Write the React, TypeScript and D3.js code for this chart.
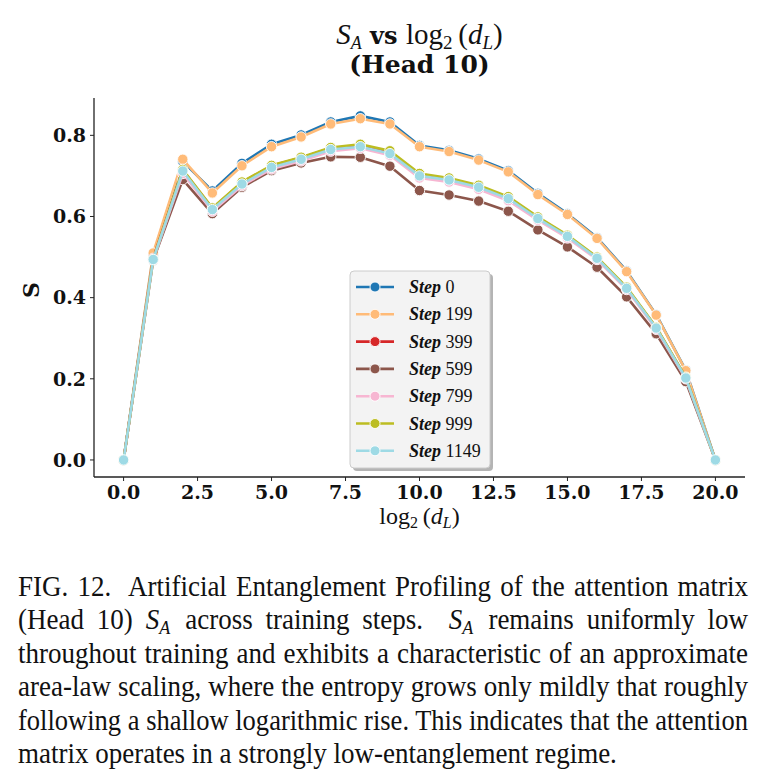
import { useRef, useLayoutEffect, useState } from 'react'
import * as d3 from 'd3'

const logDL = [0, 1, 2, 3, 4, 5, 6, 7, 8, 9, 10, 11, 12, 13, 14, 15, 16, 17, 18, 19, 20]

const stepNames = ['0', '199', '399', '599', '799', '999', '1149']
const stepColors = ['#1f77b4', '#ffbb78', '#d62728', '#8c564b', '#f7b6d2', '#bcbd22', '#9edae5']

const step0 = [0, 0.505, 0.736, 0.663, 0.731, 0.778, 0.801, 0.833, 0.848, 0.833, 0.775, 0.763, 0.742, 0.713, 0.657, 0.607, 0.548, 0.466, 0.358, 0.221, 0]
const step199 = [0, 0.51, 0.741, 0.658, 0.725, 0.772, 0.796, 0.828, 0.841, 0.828, 0.772, 0.76, 0.739, 0.71, 0.654, 0.605, 0.546, 0.464, 0.357, 0.22, 0]
const step399 = [0, 0.497, 0.714, 0.62, 0.684, 0.725, 0.745, 0.768, 0.774, 0.757, 0.702, 0.692, 0.674, 0.646, 0.597, 0.552, 0.498, 0.424, 0.326, 0.203, 0]
const step599 = [0, 0.492, 0.691, 0.607, 0.672, 0.713, 0.732, 0.747, 0.746, 0.724, 0.664, 0.653, 0.638, 0.613, 0.567, 0.525, 0.475, 0.402, 0.311, 0.193, 0]
const step799 = [0, 0.493, 0.706, 0.613, 0.676, 0.717, 0.737, 0.761, 0.768, 0.751, 0.695, 0.685, 0.667, 0.639, 0.591, 0.547, 0.494, 0.42, 0.322, 0.2, 0]
const step999 = [0, 0.495, 0.716, 0.621, 0.685, 0.726, 0.746, 0.77, 0.778, 0.762, 0.706, 0.695, 0.677, 0.649, 0.599, 0.554, 0.5, 0.426, 0.327, 0.204, 0]
const step1149 = [0, 0.494, 0.712, 0.617, 0.68, 0.721, 0.741, 0.765, 0.772, 0.755, 0.7, 0.69, 0.672, 0.644, 0.595, 0.551, 0.497, 0.423, 0.325, 0.202, 0]

const allSteps = [step0, step199, step399, step599, step799, step999, step1149]

const xTicks = [0, 2.5, 5, 7.5, 10, 12.5, 15, 17.5, 20]
const yTicks = [0, 0.2, 0.4, 0.6, 0.8]

const caption = [
  'FIG. 12.  Artificial Entanglement Profiling of the attention matrix',
  '(Head 10) S_A across training steps.  S_A remains uniformly low',
  'throughout training and exhibits a characteristic of an approximate',
  'area-law scaling, where the entropy grows only mildly that roughly',
  'following a shallow logarithmic rise. This indicates that the attention',
  'matrix operates in a strongly low-entanglement regime.',
]

const W = 766
const H = 775
const plot = { left: 94, right: 745, top: 98, bottom: 477 }
const tickFont = { fontFamily: 'DejaVu Serif' }
const times = { fontFamily: 'Liberation Serif, Tinos, Times New Roman, Nimbus Roman, FreeSerif, serif' }
const capWidth = 730

function CaptionLine({ text, y, justify }: { text: string; y: number; justify: boolean }) {
  const ref = useRef<SVGTextElement>(null)
  const [fit, setFit] = useState<{ ws: number; squeeze: boolean }>({ ws: 0, squeeze: false })

  useLayoutEffect(() => {
    if (!justify || !ref.current) return
    const natural = ref.current.getComputedTextLength()
    const spaces = (text.match(/ /g) || []).length
    if (natural <= capWidth) setFit({ ws: (capWidth - natural) / spaces, squeeze: false })
    else setFit({ ws: 0, squeeze: true })
  }, [text, justify])

  const parts = text.split('S_A')
  const kids: any[] = []
  parts.forEach((p, i) => {
    kids.push(<tspan key={'t' + i}>{p}</tspan>)
    if (i < parts.length - 1) {
      kids.push(<tspan key={'s' + i} fontStyle="italic">S</tspan>)
      kids.push(<tspan key={'a' + i} fontStyle="italic" fontSize={18} dy={4}>A</tspan>)
      kids.push(<tspan key={'b' + i} dy={-4}>{'\u200a'}</tspan>)
    }
  })
  return (
    <text ref={ref} transform={`translate(18,${y}) scale(1,1.06)`} fontSize={27} fill="#111"
      textLength={fit.squeeze ? capWidth : undefined} lengthAdjust="spacingAndGlyphs"
      style={{ ...times, whiteSpace: 'pre', wordSpacing: fit.ws ? `${fit.ws}px` : undefined }}>
      {kids}
    </text>
  )
}

export default function App() {
  const x = d3.scaleLinear().domain([-1, 21]).range([plot.left, plot.right])
  const y = d3.scaleLinear().domain([-0.042, 0.892]).range([plot.bottom, plot.top])
  const line = d3.line<number>().x((_, i) => x(logDL[i])).y(d => y(d))
  const cx = (plot.left + plot.right) / 2

  const legX = 350
  const legY = 271
  const legW = 140
  const legH = 197

  return (
    <div style={{ position: 'absolute', left: 0, top: 0 }}>
      <svg width={W} height={H} viewBox={`0 0 ${W} ${H}`} style={{ display: 'block', background: '#fff' }}>
        {/* title */}
        <text x={cx} y={44} textAnchor="middle" fontSize={29} fill="#111" style={times}>
          <tspan fontStyle="italic">S</tspan>
          <tspan fontSize={18} dy={5} fontStyle="italic">A</tspan>
          <tspan dy={-5} style={tickFont} fontWeight="bold" fontSize={24}>{' vs '}</tspan>
          <tspan>log</tspan>
          <tspan fontSize={19} dy={5}>2</tspan>
          <tspan dy={-5}>{'\u2009('}</tspan>
          <tspan fontStyle="italic">d</tspan>
          <tspan fontSize={19} dy={5} fontStyle="italic">L</tspan>
          <tspan dy={-5}>)</tspan>
        </text>
        <text x={cx} y={73} textAnchor="middle" fontSize={25} fontWeight="bold" fill="#111" style={tickFont}>
          (Head 10)
        </text>

        {/* series */}
        {allSteps.map((s, k) => (
          <g key={k}>
            <path d={line(s) || ''} fill="none" stroke={stepColors[k]} strokeWidth={2.6} strokeLinejoin="round" />
            {s.map((v, i) => (
              <circle key={i} cx={x(logDL[i])} cy={y(v)} r={5.2} fill={stepColors[k]} stroke="#fff" strokeWidth={0.9} />
            ))}
          </g>
        ))}

        {/* axes */}
        <line x1={plot.left} x2={plot.left} y1={plot.top} y2={plot.bottom} stroke="#222" strokeWidth={1.3} />
        <line x1={plot.left} x2={plot.right} y1={plot.bottom} y2={plot.bottom} stroke="#222" strokeWidth={1.3} />
        {yTicks.map(t => (
          <g key={t}>
            <line x1={plot.left - 4} x2={plot.left} y1={y(t)} y2={y(t)} stroke="#222" strokeWidth={1} />
            <text x={plot.left - 8} y={y(t)} dy="0.36em" textAnchor="end" style={tickFont} fontWeight="bold" fontSize={19} fill="#111">
              {d3.format('.1f')(t)}
            </text>
          </g>
        ))}
        {xTicks.map(t => (
          <g key={t}>
            <line x1={x(t)} x2={x(t)} y1={plot.bottom} y2={plot.bottom + 4} stroke="#222" strokeWidth={1} />
            <text x={x(t)} y={plot.bottom + 22} textAnchor="middle" style={tickFont} fontWeight="bold" fontSize={19} fill="#111">
              {d3.format('.1f')(t)}
            </text>
          </g>
        ))}
        <text x={cx} y={524} textAnchor="middle" fontSize={24} fill="#111" style={times}>
          <tspan>log</tspan>
          <tspan fontSize={16} dy={4}>2</tspan>
          <tspan dy={-4}>{'\u2009('}</tspan>
          <tspan fontStyle="italic">d</tspan>
          <tspan fontSize={16} dy={4} fontStyle="italic">L</tspan>
          <tspan dy={-4}>)</tspan>
        </text>
        <text transform={`translate(39,290) rotate(-90)`} textAnchor="middle" fontSize={22} fontWeight="bold" fill="#111" style={tickFont}>
          S
        </text>

        {/* legend */}
        <rect x={legX + 3} y={legY + 3} width={legW} height={legH} rx={4} fill="#777" opacity={0.55} />
        <rect x={legX} y={legY} width={legW} height={legH} rx={4} fill="#f3f3f3" stroke="#ccc" strokeWidth={1} />
        {stepNames.map((n, k) => {
          const ly = legY + 16 + k * 27.3
          return (
            <g key={n}>
              <line x1={legX + 6} x2={legX + 44} y1={ly} y2={ly} stroke={stepColors[k]} strokeWidth={2.6} />
              <circle cx={legX + 25} cy={ly} r={5} fill={stepColors[k]} stroke="#fff" strokeWidth={0.9} />
              <text x={legX + 59} y={ly} dy="0.34em" fontSize={18} fill="#111" style={times}>
                <tspan fontWeight="bold" fontStyle="italic">Step</tspan>
                <tspan>{' ' + n}</tspan>
              </text>
            </g>
          )
        })}

        {/* caption */}
        {caption.map((c, i) => (
          <CaptionLine key={i} text={c} y={596 + i * 33.4} justify={i < caption.length - 1} />
        ))}
      </svg>
    </div>
  )
}
